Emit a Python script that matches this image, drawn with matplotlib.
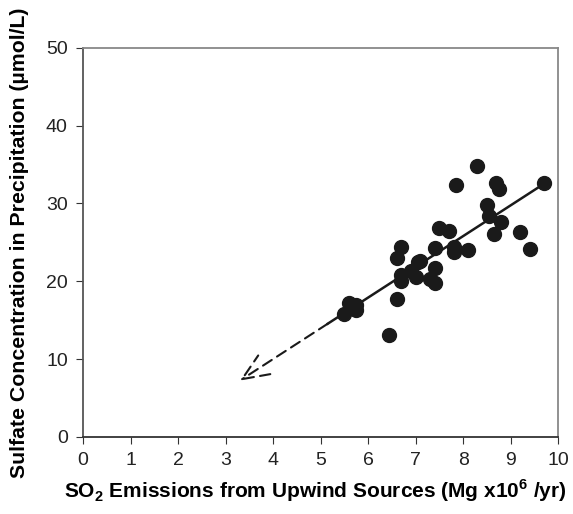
import matplotlib
matplotlib.use('Agg')
import matplotlib.pyplot as plt
import numpy as np

plt.rcParams['font.family'] = ['Liberation Sans', 'DejaVu Sans']
plt.rcParams['mathtext.fontset'] = 'custom'
plt.rcParams['mathtext.rm'] = 'Liberation Sans:bold'
plt.rcParams['mathtext.bf'] = 'Liberation Sans:bold'

# SO2 emissions (Mg x10^6/yr) vs sulfate concentration (umol/L)
so2 = [5.5, 5.6, 5.75, 5.75, 6.45, 6.6, 6.6, 6.7, 6.7, 6.7, 6.9, 7.0, 7.05,
       7.1, 7.3, 7.4, 7.4, 7.4, 7.5, 7.7, 7.8, 7.8, 7.85, 8.1, 8.3, 8.5,
       8.55, 8.65, 8.7, 8.75, 8.8, 9.2, 9.4, 9.7]
sulfate = [15.8, 17.2, 16.9, 16.3, 13.1, 17.7, 23.0, 24.4, 20.0, 20.8, 21.3,
           20.6, 22.5, 22.6, 20.3, 21.7, 19.8, 24.3, 26.9, 26.5, 24.4, 23.7,
           32.4, 24.0, 34.8, 29.8, 28.4, 26.1, 32.6, 31.8, 27.6, 26.3, 24.1,
           32.6]

# fitted line: solid over the data, dashed extrapolation toward origin
slope, intercept = 3.95, -5.8
solid_x = [5.15, 9.65]
dash_x = [3.3, 5.15]

fig = plt.figure(figsize=(5.73, 5.14), dpi=100)
ax = fig.add_axes([0.145, 0.150, 0.829, 0.757])

ax.scatter(so2, sulfate, s=100, color='#1a1a1a', zorder=3)
ax.plot(solid_x, [slope * v + intercept for v in solid_x], color='#1a1a1a', lw=1.8)
ax.annotate('', xy=(dash_x[0], slope * dash_x[0] + intercept),
            xytext=(dash_x[1], slope * dash_x[1] + intercept),
            arrowprops=dict(arrowstyle='->,head_length=1.9,head_width=0.8',
                            linestyle=(0, (5, 3)), color='#1a1a1a', lw=1.5,
                            shrinkA=0, shrinkB=0))

ax.set_xlim(0, 10)
ax.set_ylim(0, 50)
ax.set_xticks(range(0, 11))
ax.set_yticks(range(0, 51, 10))
for s in ax.spines.values():
    s.set_color('#888888')
    s.set_linewidth(1.3)
ax.spines['bottom'].set_color('#333333')
ax.spines['left'].set_color('#555555')
ax.tick_params(direction='out', length=5, labelsize=14, color='#333333',
               labelcolor='#222222', pad=6)

ax.set_xlabel(r'SO$_{2}$ Emissions from Upwind Sources (Mg x10$^{6}$ /yr)',
              fontsize=15, fontweight='bold', labelpad=6)
ax.xaxis.label.set_x(0.488)
ax.set_ylabel('Sulfate Concentration in Precipitation (µmol/L)',
              fontsize=15.3, fontweight='bold', labelpad=12)

fig.savefig('out.png', dpi=100)
